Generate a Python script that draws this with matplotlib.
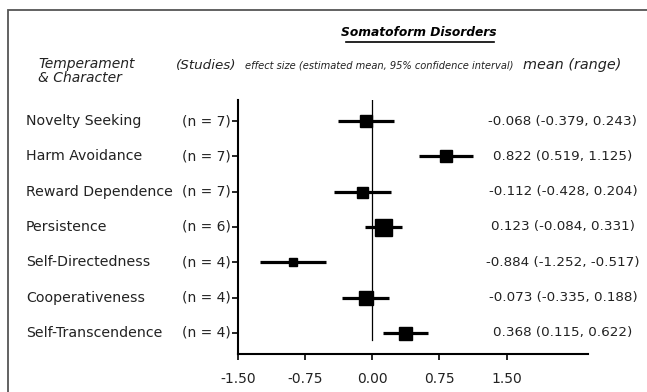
import matplotlib
matplotlib.use("Agg")
import matplotlib.pyplot as plt
import matplotlib.transforms as mtransforms
from matplotlib.lines import Line2D
from matplotlib.patches import Rectangle

# Data
traits = ["Novelty Seeking", "Harm Avoidance", "Reward Dependence", "Persistence",
          "Self-Directedness", "Cooperativeness", "Self-Transcendence"]
n_studies = [7, 7, 7, 6, 4, 4, 4]
means = [-0.068, 0.822, -0.112, 0.123, -0.884, -0.073, 0.368]
ci_low = [-0.379, 0.519, -0.428, -0.084, -1.252, -0.335, 0.115]
ci_high = [0.243, 1.125, 0.204, 0.331, -0.517, 0.188, 0.622]
xticks = [-1.50, -0.75, 0.00, 0.75, 1.50]

# square marker size in pixels (study weight)
box_px = [12, 12, 11, 17, 8, 14, 13]

W, H = 647, 392
fig = plt.figure(figsize=(W / 100, H / 100), dpi=100)
plt.rcParams["font.family"] = "DejaVu Sans"
TXT = "#222222"


def fx(px):
    return px / W


def fy(py):
    return 1 - py / H


ax = fig.add_axes([fx(238), fy(354), fx(588) - fx(238), fy(100) - fy(354)])
ys = list(range(len(traits), 0, -1))

for y, m, lo, hi, s in zip(ys, means, ci_low, ci_high, box_px):
    ax.plot([lo, hi], [y, y], color="black", lw=2.3, solid_capstyle="butt", zorder=2)
    ax.plot(m, y, marker="s", color="black", markersize=s * 0.72, zorder=3)

ax.plot([0, 0], [0.8, 7.6], color="black", lw=0.9, zorder=1)

ax.set_xlim(-1.5, 2.41)
ax.set_ylim(0.4, 7.6)
ax.set_xticks(xticks)
ax.set_xticklabels([f"{t:.2f}" for t in xticks], fontsize=10, color=TXT)
ax.set_yticks(ys)
ax.set_yticklabels([])
ax.tick_params(axis="both", direction="out", length=4, width=1.2)
ax.tick_params(axis="x", pad=9)
ax.spines["top"].set_visible(False)
ax.spines["right"].set_visible(False)
ax.spines["left"].set_linewidth(1.5)
ax.spines["bottom"].set_linewidth(1.5)

trans = mtransforms.blended_transform_factory(fig.transFigure, ax.transData)
for y, name, n, m, lo, hi in zip(ys, traits, n_studies, means, ci_low, ci_high):
    fig.text(fx(26), y, name, transform=trans, fontsize=10.2, va="center", ha="left", color=TXT)
    fig.text(fx(182), y, f"(n = {n})", transform=trans, fontsize=10, va="center",
             ha="left", color=TXT)
    fig.text(fx(563), y, f"{m:.3f} ({lo:.3f}, {hi:.3f})", transform=trans,
             fontsize=9.7, va="center", ha="center", color=TXT)

# headers
fig.text(fx(419), fy(32), "Somatoform Disorders", fontsize=8.8, fontweight="bold",
         fontstyle="italic", ha="center", va="center")
fig.add_artist(Line2D([fx(346), fx(494)], [fy(42), fy(42)], color="black", lw=1.2))
fig.text(fx(38), fy(71), "Temperament\n& Character", fontsize=10, fontstyle="italic",
         ha="left", va="center", linespacing=1.0, color=TXT)
fig.text(fx(176), fy(65), "(Studies)", fontsize=9.7, fontstyle="italic", ha="left",
         va="center", color=TXT)
fig.text(fx(379), fy(65), "effect size (estimated mean, 95% confidence interval)",
         fontsize=7.1, fontstyle="italic", ha="center", va="center", color=TXT)
fig.text(fx(572), fy(65), "mean (range)", fontsize=10.4, fontstyle="italic",
         ha="center", va="center", color=TXT)

# outer frame
fig.add_artist(Rectangle((fx(8), -0.1), 1.2, fy(10) + 0.1, transform=fig.transFigure,
                         fill=False, edgecolor="#555555", lw=1.3))

fig.savefig("out.png", dpi=100)
